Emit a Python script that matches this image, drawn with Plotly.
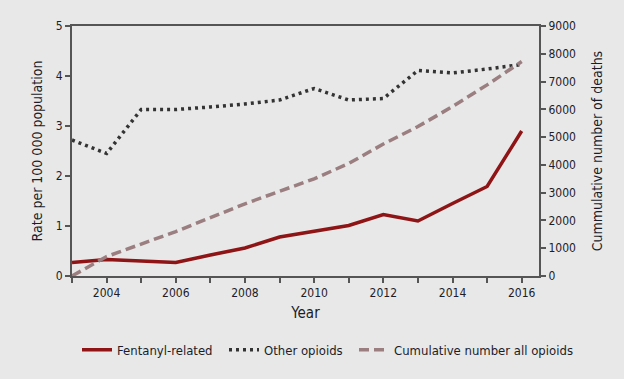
import plotly.graph_objects as go

years = list(range(2003, 2017))
fentanyl = [0.27, 0.33, 0.30, 0.27, 0.42, 0.56, 0.78, 0.90, 1.01, 1.23, 1.10, 1.45, 1.79, 2.90]
other = [2.72, 2.45, 3.33, 3.33, 3.38, 3.44, 3.52, 3.75, 3.52, 3.55, 4.11, 4.06, 4.14, 4.23]
cumulative = [0, 700, 1150, 1600, 2100, 2600, 3050, 3500, 4050, 4750, 5380, 6100, 6880, 7720]
xtick_vals = years
xtick_text = [str(y) if y % 2 == 0 else "" for y in years]

FONT = "DejaVu Sans Condensed, Liberation Sans Narrow, sans-serif"
TXT = "#1c1c2a"
AX = "#555555"

fig = go.Figure()
fig.add_trace(go.Scatter(x=years, y=fentanyl, name="Fentanyl-related", mode="lines",
                         line=dict(color="#8e1416", width=3.5), legend="legend"))
fig.add_trace(go.Scatter(x=years, y=other, name="Other opioids", mode="lines",
                         line=dict(color="#333333", width=3.5, dash="3px,4px"), legend="legend2"))
fig.add_trace(go.Scatter(x=years, y=cumulative, name="Cumulative number all opioids", mode="lines",
                         yaxis="y2", line=dict(color="#9a7e80", width=3.5, dash="10px,5px"), legend="legend3"))

leg = dict(orientation="h", xref="container", yref="container", xanchor="left", yanchor="middle",
           y=0.077, font=dict(size=13, color=TXT), bgcolor="rgba(0,0,0,0)", itemwidth=30)

fig.update_layout(
    width=624, height=379,
    margin=dict(l=72, r=85, t=26, b=103, autoexpand=False),
    paper_bgcolor="#e8e8e8", plot_bgcolor="#e8e8e8",
    font=dict(family=FONT, size=12, color=TXT),
    showlegend=True,
    legend=dict(leg, x=77 / 624),
    legend2=dict(leg, x=224 / 624),
    legend3=dict(leg, x=354 / 624),
    xaxis=dict(range=[2003, 2016.5], tickvals=xtick_vals, ticktext=xtick_text,
               ticks="outside", ticklen=5, tickcolor=AX, tickwidth=1.5,
               showline=True, linecolor=AX, linewidth=2, mirror=True,
               showgrid=False, zeroline=False, automargin=False,
               title=dict(text="Year", font=dict(size=15, color=TXT), standoff=8),
               tickfont=dict(size=12, color=TXT)),
    yaxis=dict(range=[0, 5], dtick=1, ticks="outside", ticklen=5, tickcolor=AX, tickwidth=1.5,
               showline=True, linecolor=AX, linewidth=2, showgrid=False, zeroline=False,
               automargin=False,
               title=dict(text="Rate per 100 000 population", font=dict(size=14, color=TXT), standoff=10),
               tickfont=dict(size=12, color=TXT)),
    yaxis2=dict(range=[0, 9000], dtick=1000, overlaying="y", side="right",
                ticks="outside", ticklen=5, tickcolor=AX, tickwidth=1.5,
                showline=True, linecolor=AX, linewidth=2, showgrid=False, zeroline=False,
                automargin=False,
                title=dict(text="Cummulative number of deaths", font=dict(size=14, color=TXT), standoff=17),
                tickfont=dict(size=12, color=TXT)),
)

fig.write_html("out.html", config={"displayModeBar": False},
               post_script="document.body.style.margin='0';document.body.style.overflow='hidden';")
